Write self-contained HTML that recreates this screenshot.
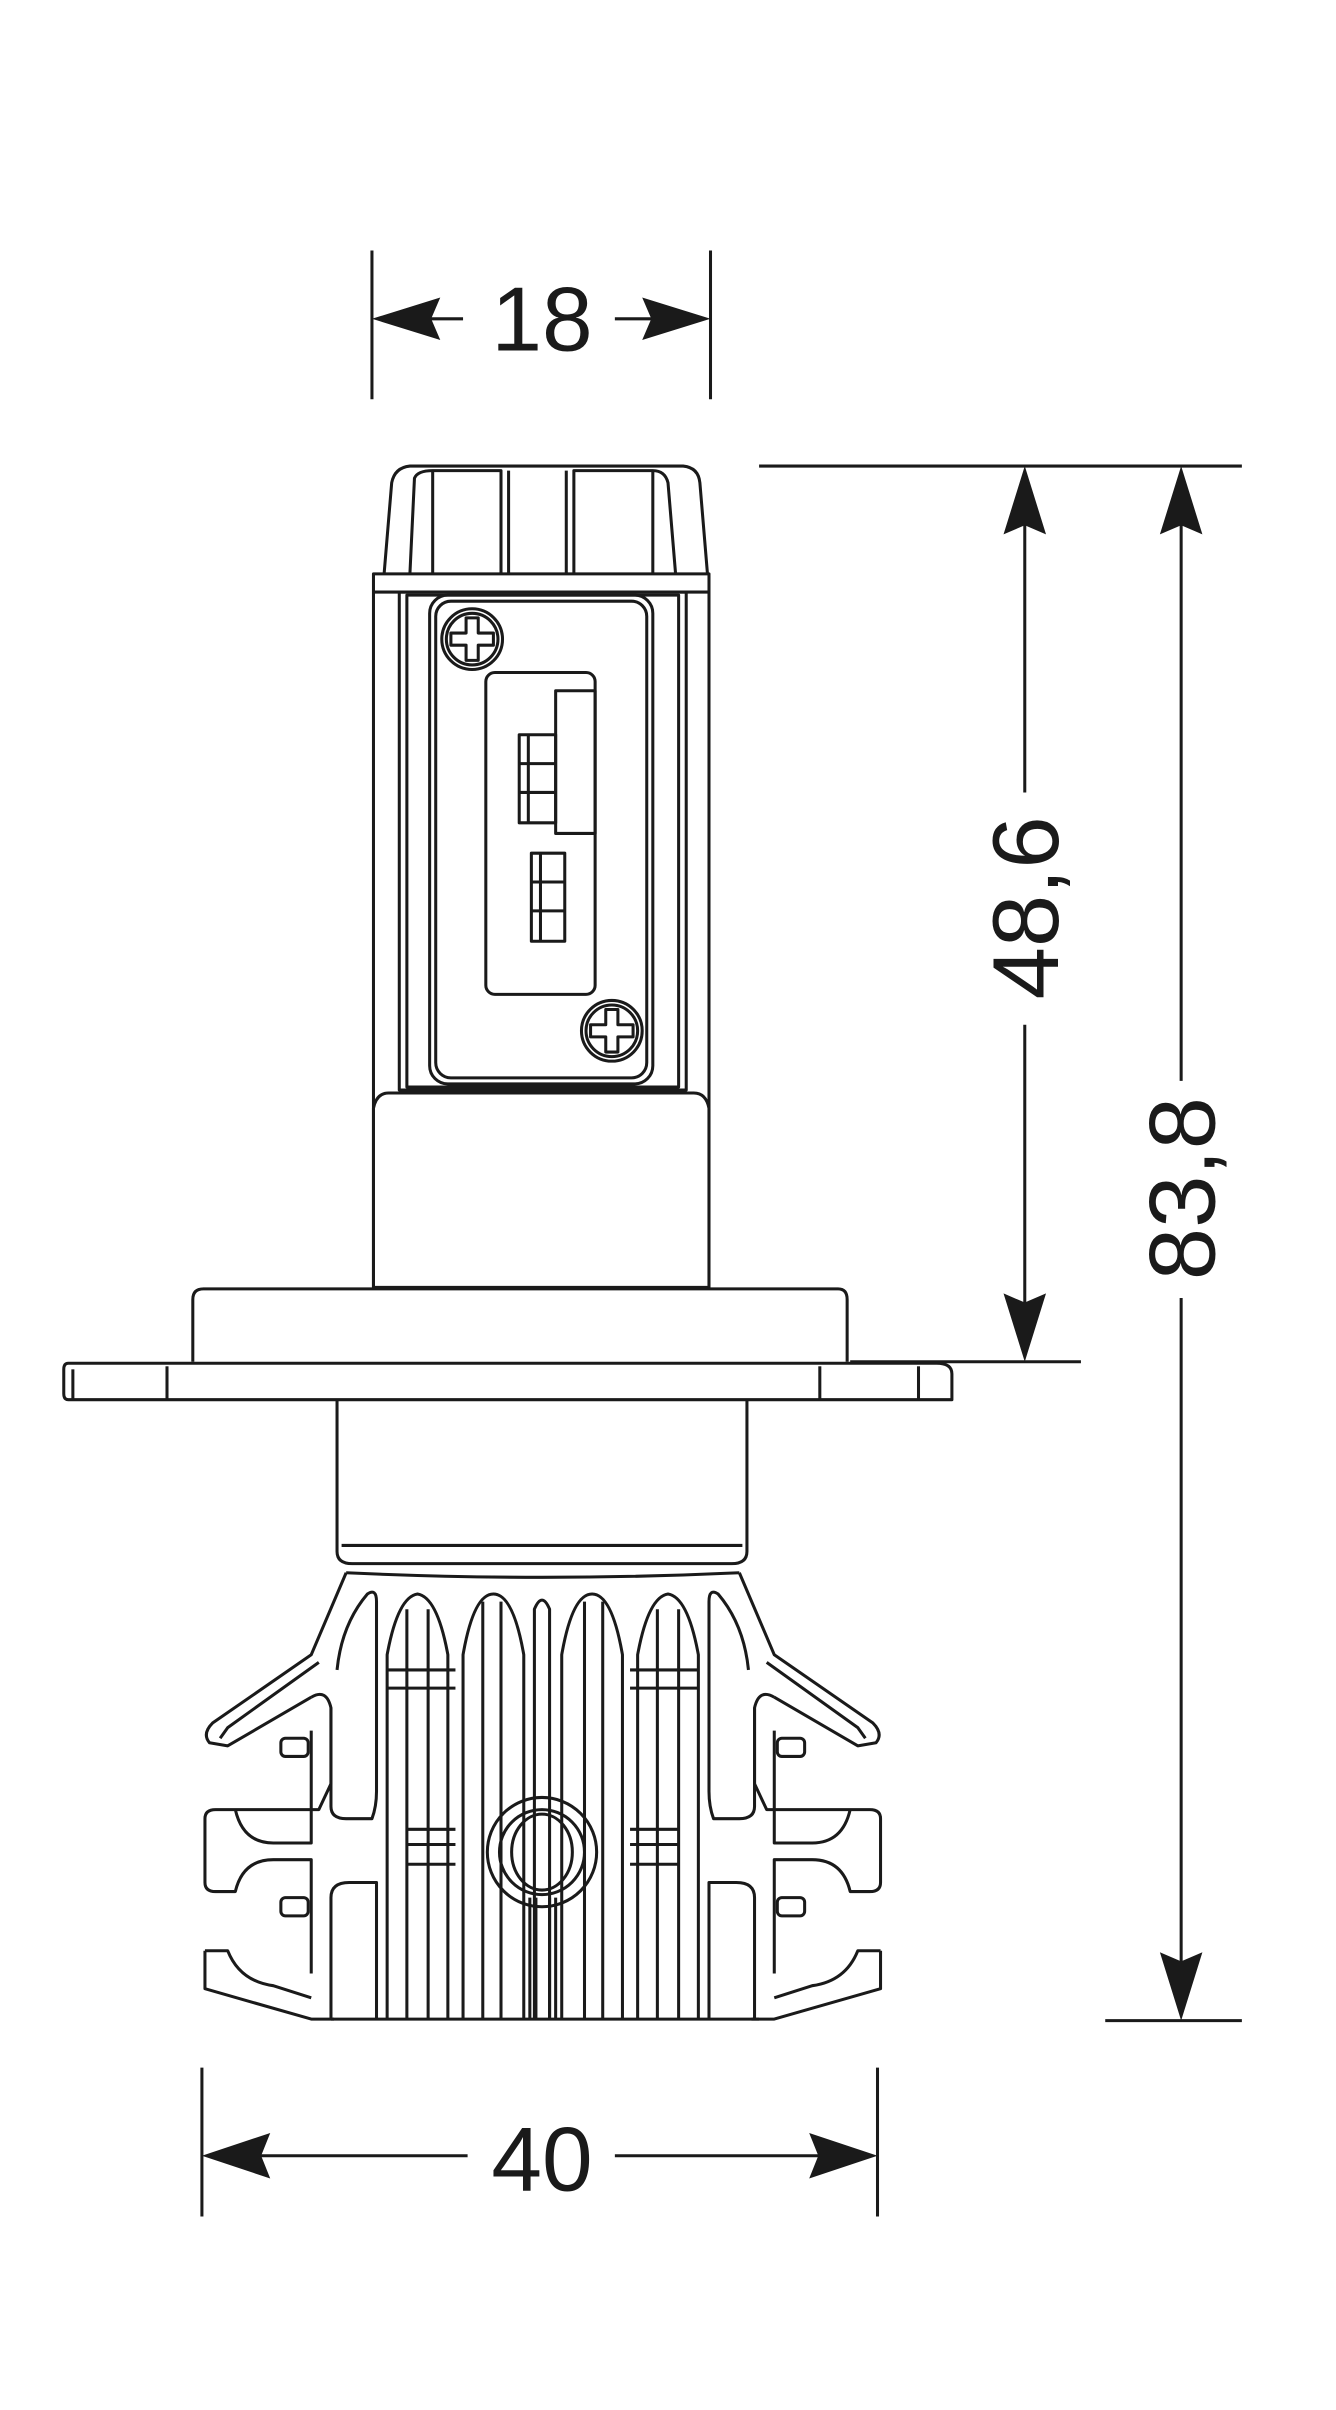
<!DOCTYPE html>
<html><head><meta charset="utf-8"><style>
html,body{margin:0;padding:0;background:#fff;}
svg{display:block;}
text{font-family:"Liberation Sans",Arial,sans-serif;fill:#1a1a1a;}
</style></head><body>
<svg width="1336" height="2410" viewBox="0 0 880 1587.5" preserveAspectRatio="none" xmlns="http://www.w3.org/2000/svg">
<g fill="none" stroke="#1a1a1a" stroke-width="2" stroke-linejoin="round">
<line x1="245" y1="165" x2="245" y2="263"/>
<line x1="468" y1="165" x2="468" y2="263"/>
<line x1="250" y1="210" x2="305" y2="210"/>
<line x1="405" y1="210" x2="463" y2="210"/>
<line x1="133" y1="1362" x2="133" y2="1460"/>
<line x1="578" y1="1362" x2="578" y2="1460"/>
<line x1="138" y1="1420" x2="308" y2="1420"/>
<line x1="405" y1="1420" x2="573" y2="1420"/>
<line x1="500" y1="307" x2="818" y2="307"/>
<line x1="560" y1="897" x2="712" y2="897"/>
<line x1="728" y1="1331" x2="818" y2="1331"/>
<line x1="675" y1="312" x2="675" y2="522"/>
<line x1="675" y1="675" x2="675" y2="892"/>
<line x1="778" y1="312" x2="778" y2="712"/>
<line x1="778" y1="855" x2="778" y2="1326"/>
</g>
<g fill="#1a1a1a">
<polygon points="245,210 290,196 284,210 290,224"/>
<polygon points="468,210 423,196 429,210 423,224"/>
<polygon points="133,1420 178,1405 172,1420 178,1435"/>
<polygon points="578,1420 533,1405 539,1420 533,1435"/>
<polygon points="675,307 661,352 675,346 689,352"/>
<polygon points="675,897 661,852 675,858 689,852"/>
<polygon points="778,307 764,352 778,346 792,352"/>
<polygon points="778,1331 764,1286 778,1292 792,1286"/>
</g>
<text x="357" y="231" font-size="60" text-anchor="middle">18</text>
<text x="357" y="1443" font-size="60" text-anchor="middle">40</text>
<text transform="translate(697,598) rotate(-90)" font-size="62" text-anchor="middle">48,6</text>
<text transform="translate(800,783) rotate(-90)" font-size="62" text-anchor="middle">83,8</text>

<g fill="none" stroke="#1a1a1a" stroke-width="2" stroke-linejoin="round">
<path d="M253,378 L258,318 Q260,308 270,307 L450,307 Q460,308 461,318 L466,378"/>
<path d="M270,378 L273,315 Q275,310 285,310 L330,310 L330,378"/>
<path d="M285,310 L285,378"/>
<path d="M378,378 L378,310 L430,310 Q438,310 440,318 L445,378"/>
<path d="M430,310 L430,378"/>
<path d="M335,310 L335,378 M373,310 L373,378"/>
<rect x="246" y="378" width="221" height="470"/>
<line x1="246" y1="390" x2="467" y2="390"/>
<rect x="263" y="390" width="189" height="328"/>
<rect x="268" y="392" width="179" height="324"/>
<rect x="283" y="392" width="147" height="322" rx="12"/>
<rect x="287" y="396" width="139" height="314" rx="10"/>
<circle cx="311" cy="421" r="20"/>
<circle cx="311" cy="421" r="17"/>
<path d="M307,407 h8 v10 h10 v8 h-10 v10 h-8 v-10 h-10 v-8 h10 z"/>
<circle cx="403" cy="679" r="20"/>
<circle cx="403" cy="679" r="17"/>
<path d="M399,665 h8 v10 h10 v8 h-10 v10 h-8 v-10 h-10 v-8 h10 z"/>
<rect x="320" y="443" width="72" height="212" rx="6"/>
<rect x="366" y="455" width="26" height="94"/>
<rect x="342" y="484" width="24" height="58"/>
<line x1="342" y1="503" x2="366" y2="503"/><line x1="342" y1="522" x2="366" y2="522"/>
<line x1="348" y1="484" x2="348" y2="542"/>
<rect x="350" y="562" width="22" height="58"/>
<line x1="350" y1="581" x2="372" y2="581"/><line x1="350" y1="600" x2="372" y2="600"/>
<line x1="356" y1="562" x2="356" y2="620"/>
<path d="M246,848 L246,730 Q248,720 256,720 L457,720 Q465,720 467,730 L467,848"/>
<path d="M127,897 L127,856 Q127,849 134,849 L552,849 Q558,849 558,856 L558,897"/>
<path d="M45,898 L617,898 Q627,898 627,905 L627,922 L45,922 Q42,922 42,918 L42,902 Q42,898 45,898 Z"/>
<line x1="48" y1="902" x2="48" y2="922"/>
<line x1="110" y1="900" x2="110" y2="922"/>
<line x1="540" y1="900" x2="540" y2="922"/>
<line x1="605" y1="900" x2="605" y2="922"/>
<path d="M222,922 L222,1022 Q222,1030 232,1030 L482,1030 Q492,1030 492,1022 L492,922"/>
<line x1="225" y1="1018" x2="489" y2="1018"/>
<path d="M228,1036 Q357,1042 487,1036"/>
<g id="hs">
<path d="M228,1036 L205,1090 L140,1135 Q133,1142 138,1148 L150,1150 L205,1118"/>
<path d="M210,1095 L150,1138 L145,1145"/>
<path d="M205,1118 Q215,1112 218,1125 L218,1175 L210,1192 L142,1192 Q135,1192 135,1198 L135,1240 Q135,1246 142,1246 L155,1246 Q160,1225 180,1225 L205,1225 L205,1300"/>
<path d="M155,1192 Q160,1214 180,1214 L205,1214 L205,1140"/>
<path d="M135,1285 L135,1310 L205,1330 L220,1330"/>
<path d="M135,1285 L150,1285 Q158,1305 180,1308 L205,1316"/>
<rect x="185" y="1145" width="18" height="12" rx="3"/>
<rect x="185" y="1250" width="18" height="12" rx="3"/>
<path d="M218,1125 L218,1190 Q218,1198 228,1198 L245,1198 Q248,1190 248,1180 L248,1055 Q248,1046 242,1050 Q225,1070 222,1100"/>
<path d="M218,1330 L218,1250 Q218,1240 230,1240 L248,1240 L248,1330"/>
<path d="M255,1330 L255,1090 Q262,1052 275,1050 Q288,1052 295,1090 L295,1330"/>
<path d="M268,1330 L268,1060 M282,1330 L282,1060"/>
<path d="M305,1330 L305,1090 Q312,1050 325,1050 Q338,1050 345,1090 L345,1330"/>
<path d="M318,1330 L318,1055 M330,1330 L330,1055"/>
<path d="M255,1100 L300,1100 M255,1112 L300,1112"/>
<path d="M268,1205 L300,1205 M268,1215 L300,1215 M268,1228 L300,1228"/>
<path d="M349,1330 L349,1250 M353,1330 L353,1250"/>
</g>
<use href="#hs" transform="translate(715,0) scale(-1,1)"/>
<path d="M352,1330 L352,1060 Q357,1048 362,1060 L362,1330" />
<path d="M218,1330 L500,1330"/>
<circle cx="357" cy="1220" r="36"/>
<circle cx="357" cy="1220" r="28"/>
<ellipse cx="357" cy="1220" rx="20" ry="25"/>
</g>
</svg>
</body></html>
